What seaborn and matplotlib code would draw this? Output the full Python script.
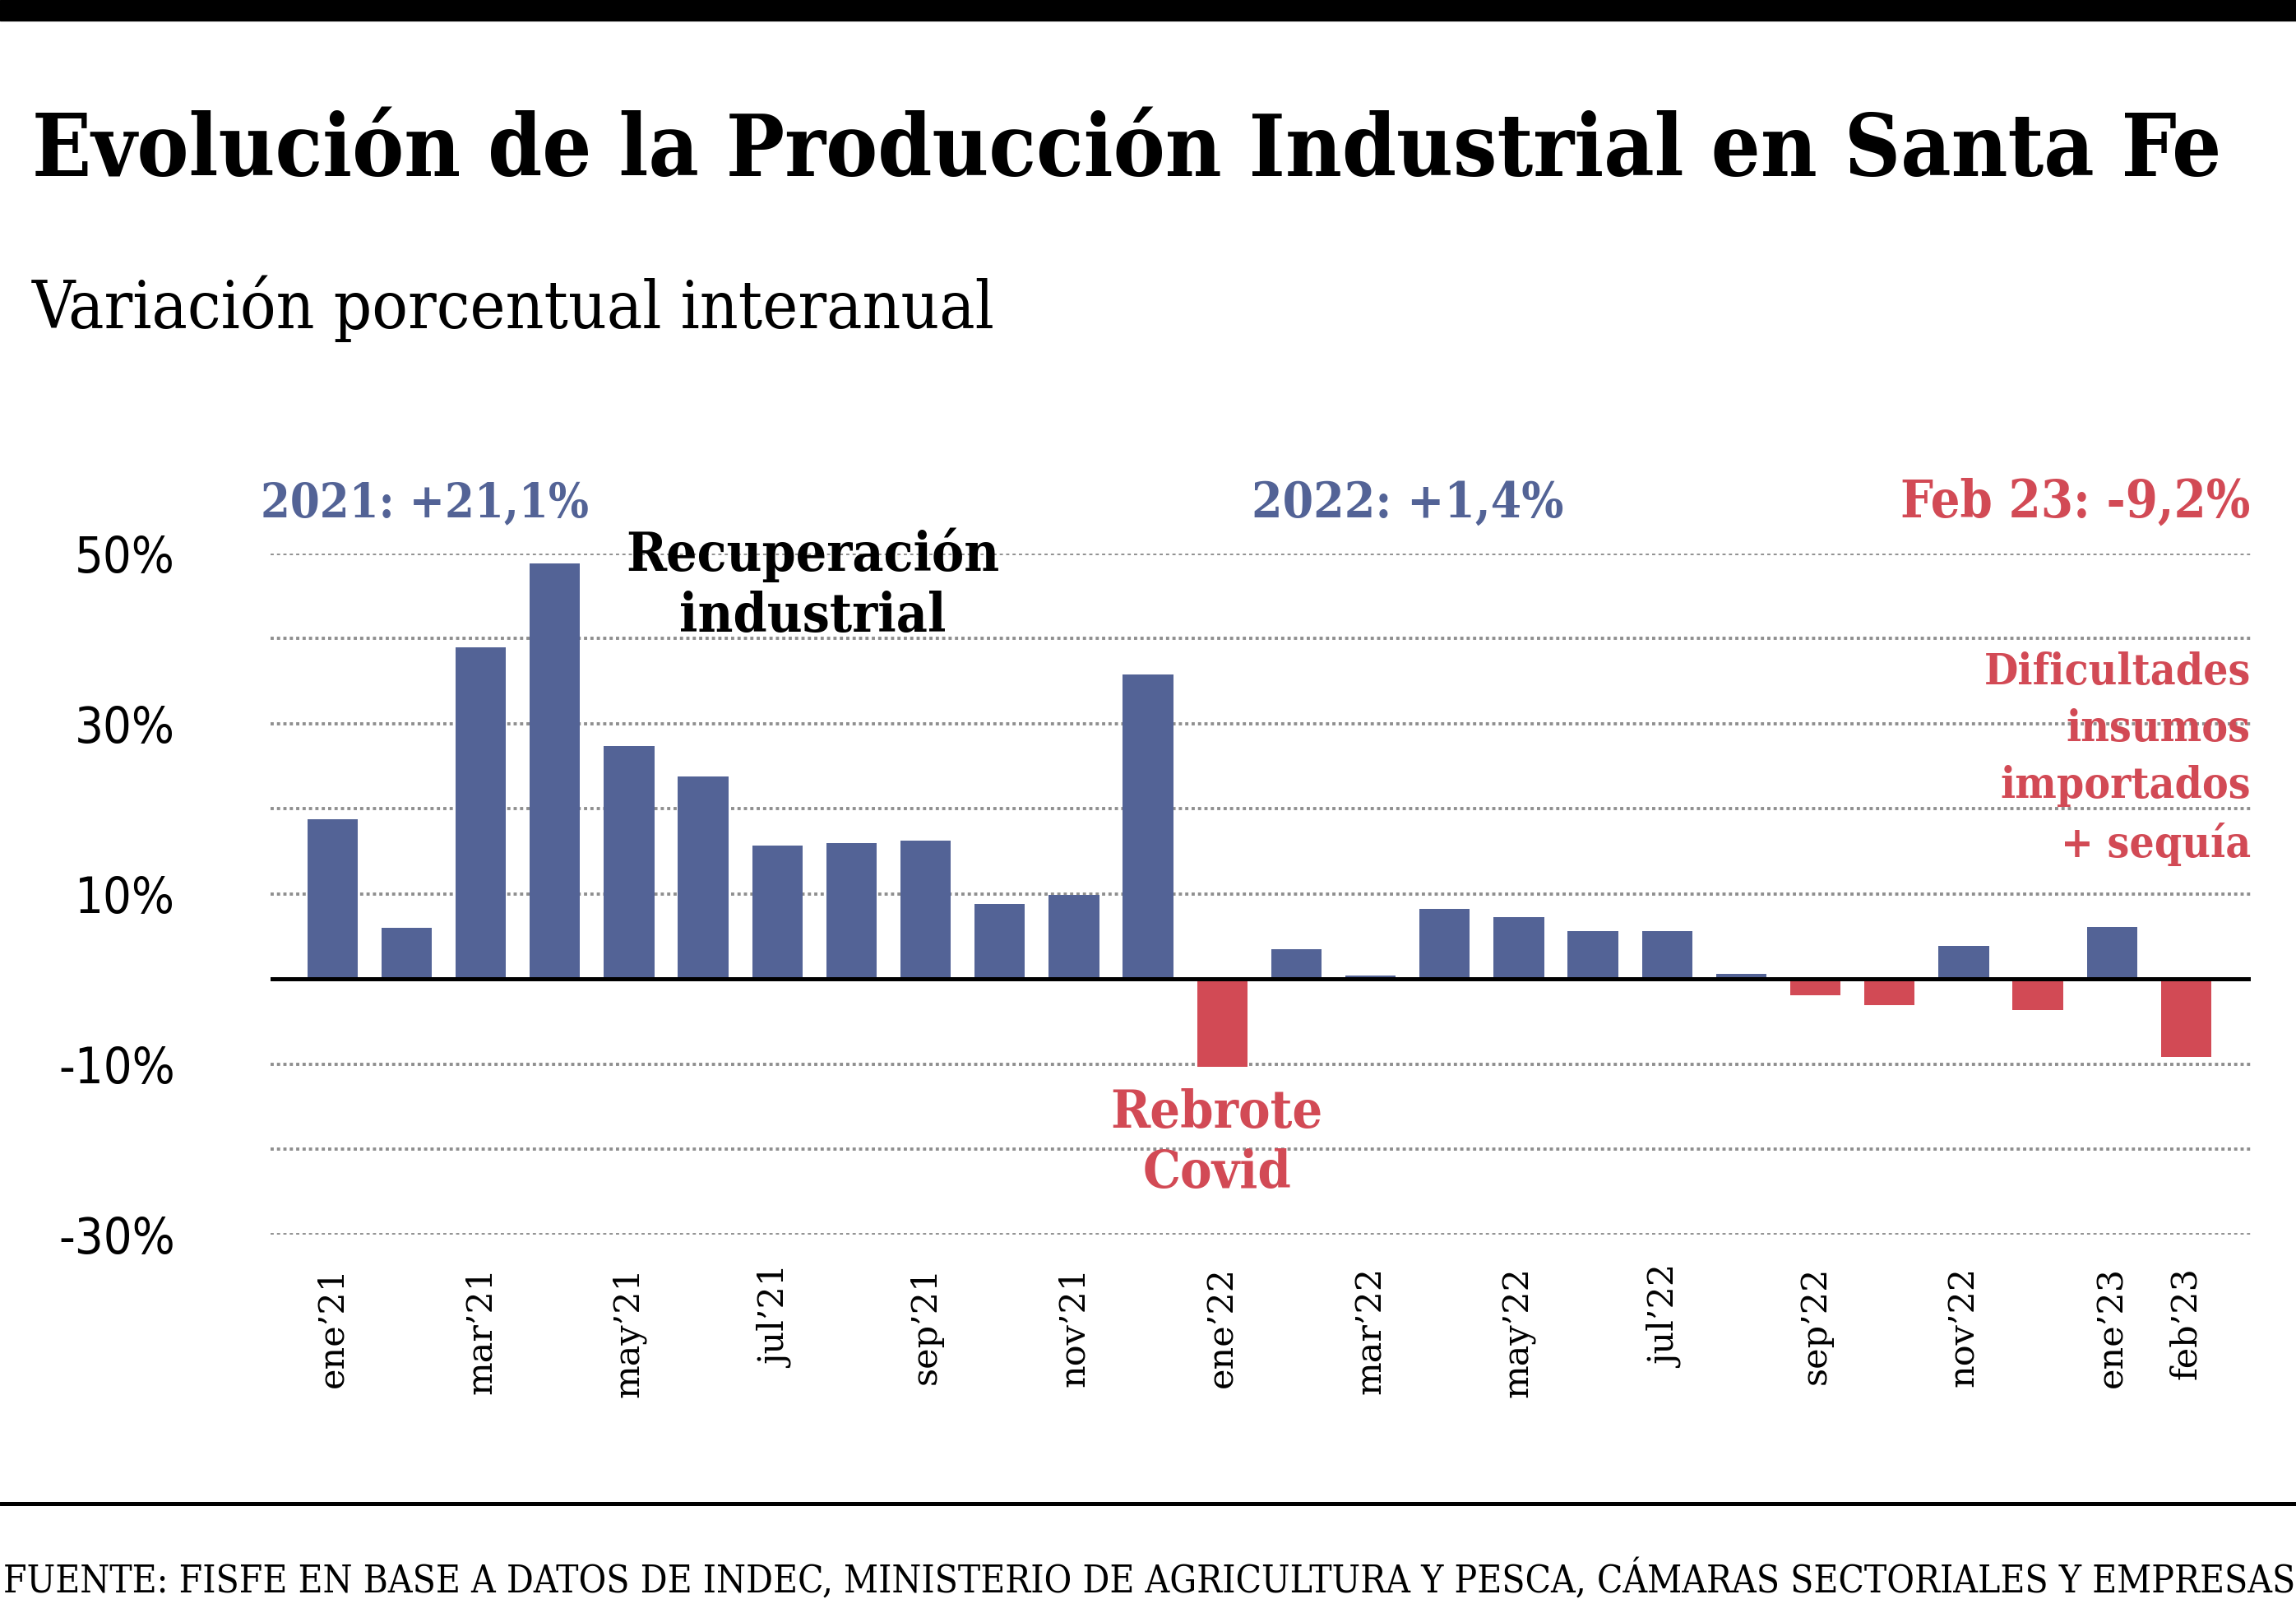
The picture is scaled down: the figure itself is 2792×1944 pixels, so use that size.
import matplotlib
matplotlib.use("Agg")
import matplotlib.pyplot as plt
from matplotlib.patches import Rectangle
from matplotlib.lines import Line2D
import seaborn as sns
import pandas as pd

# data (interannual % variation)
months = ["ene'21", "feb'21", "mar'21", "abr'21", "may'21", "jun'21", "jul'21",
          "ago'21", "sep'21", "oct'21", "nov'21", "dic'21",
          "ene'22", "feb'22", "mar'22", "abr'22", "may'22", "jun'22", "jul'22",
          "ago'22", "sep'22", "oct'22", "nov'22", "dic'22",
          "ene'23", "feb'23"]
values = [18.8, 6.0, 39.0, 48.8, 27.4, 23.8, 15.7,
          16.0, 16.3, 8.8, 9.9, 35.8,
          -10.3, 3.5, 0.4, 8.2, 7.3, 5.6, 5.6,
          0.6, -1.9, -3.1, 3.9, -3.6,
          6.1, -9.2]
tick_idx = [0, 2, 4, 6, 8, 10, 12, 14, 16, 18, 20, 22, 24, 25]
tick_labels = ["ene\u201921", "mar\u201921", "may\u201921", "jul\u201921", "sep\u201921",
               "nov\u201921", "ene\u201922", "mar\u201922", "may\u201922", "jul\u201922",
               "sep\u201922", "nov\u201922", "ene\u201923", "feb\u201923"]
ytick_vals = [50, 30, 10, -10, -30]
ytick_labels = ["50%", "30%", "10%", "-10%", "-30%"]

BLUE = "#536396"
RED = "#d24a55"

df = pd.DataFrame({"mes": months, "var": values})
df["signo"] = ["pos" if v >= 0 else "neg" for v in values]

sns.set_theme(style="white")
plt.rcParams["font.family"] = ["DejaVu Serif"]

W, H = 2792, 1944
fig = plt.figure(figsize=(W / 100, H / 100), dpi=100)
# positions measured on a 1568x1092 view
sx = lambda x: x / 1568
sy = lambda y: 1 - y / 1092

ax = fig.add_axes([sx(185), sy(843), sx(1537) - sx(185), sy(378) - sy(843)])
sns.barplot(data=df, x="mes", y="var", hue="signo", palette={"pos": BLUE, "neg": RED},
            dodge=False, legend=False, width=0.68, saturation=1, linewidth=0,
            order=months, ax=ax, zorder=2)
ax.set_xlim(-0.83, 25.87)
ax.set_ylim(-30, 50)
for g in range(-30, 51, 10):
    if g != 0:
        ax.axhline(g, color="#8f8f8f", lw=2.8, ls=(0, (1, 1)), zorder=1)
ax.axhline(0, color="black", lw=3.6, zorder=3)
for s in ax.spines.values():
    s.set_visible(False)
ax.set_xlabel("")
ax.set_ylabel("")
ax.set_xticks(tick_idx)
ax.set_xticklabels(tick_labels, rotation=90, va="top", ha="center",
                   fontsize=31, family="DejaVu Serif", color="black")
ax.set_yticks(ytick_vals)
ax.set_yticklabels(ytick_labels, fontsize=44, family="DejaVu Sans",
                   fontstretch="condensed", color="black")
ax.tick_params(axis="x", length=0, pad=28)
ax.tick_params(axis="y", length=0, pad=84)

fig.add_artist(Rectangle((0, sy(14)), 1, 1 - sy(14), transform=fig.transFigure,
                         color="black", zorder=5))
fig.add_artist(Line2D([0, 1], [sy(1027), sy(1027)], transform=fig.transFigure,
                      color="black", lw=3.6))

bold = dict(family="DejaVu Serif", weight="bold", fontstretch="condensed")
title = fig.text(sx(22), sy(120), "Evoluci\u00f3n de la Producci\u00f3n Industrial en Santa Fe",
                 fontsize=80, va="baseline", ha="left", color="black", **bold)
sub = fig.text(sx(22), sy(224), "Variaci\u00f3n porcentual interanual", fontsize=50,
               va="baseline", ha="left", color="black", family="DejaVu Serif",
               fontstretch="condensed")
a21 = fig.text(sx(178), sy(353), "2021: +21,1%", fontsize=40, va="baseline",
               ha="left", color=BLUE, **bold)
a22 = fig.text(sx(855), sy(353), "2022: +1,4%", fontsize=40, va="baseline",
               ha="left", color=BLUE, **bold)
a23 = fig.text(sx(1537), sy(353), "Feb 23: -9,2%", fontsize=40, va="baseline",
               ha="right", color=RED, **bold)
rec = fig.text(sx(555), sy(400), "Recuperaci\u00f3n\nindustrial", fontsize=40,
               va="center", ha="center", ma="center", color="black",
               linespacing=1.2, **bold)
dif = fig.text(sx(1537), sy(518), "Dificultades\ninsumos\nimportados\n+ sequ\u00eda",
               fontsize=36, va="center", ha="right", ma="right", color=RED,
               linespacing=1.45, **bold)
reb = fig.text(sx(831), sy(781), "Rebrote\nCovid", fontsize=40, va="center",
               ha="center", ma="center", color=RED, linespacing=1.25, **bold)
foot = fig.text(sx(2), sy(1088), "FUENTE: FISFE EN BASE A DATOS DE INDEC, MINISTERIO DE "
                "AGRICULTURA Y PESCA, C\u00c1MARAS SECTORIALES Y EMPRESAS",
                fontsize=30, va="baseline", ha="left", color="black",
                family="DejaVu Serif", fontstretch="condensed")

# scale the headline texts so their widths match the reference
fig.canvas.draw()
rend = fig.canvas.get_renderer()
targets = [(title, 1496), (sub, 658), (a21, 224), (a22, 213), (a23, 239),
           (rec, 255), (dif, 182), (reb, 145), (foot, 1564)]
for t, wdisp in targets:
    w = t.get_window_extent(rend).width
    t.set_fontsize(t.get_fontsize() * (wdisp * W / 1568) / w)

fig.savefig("out.png", dpi=100, facecolor="white")
